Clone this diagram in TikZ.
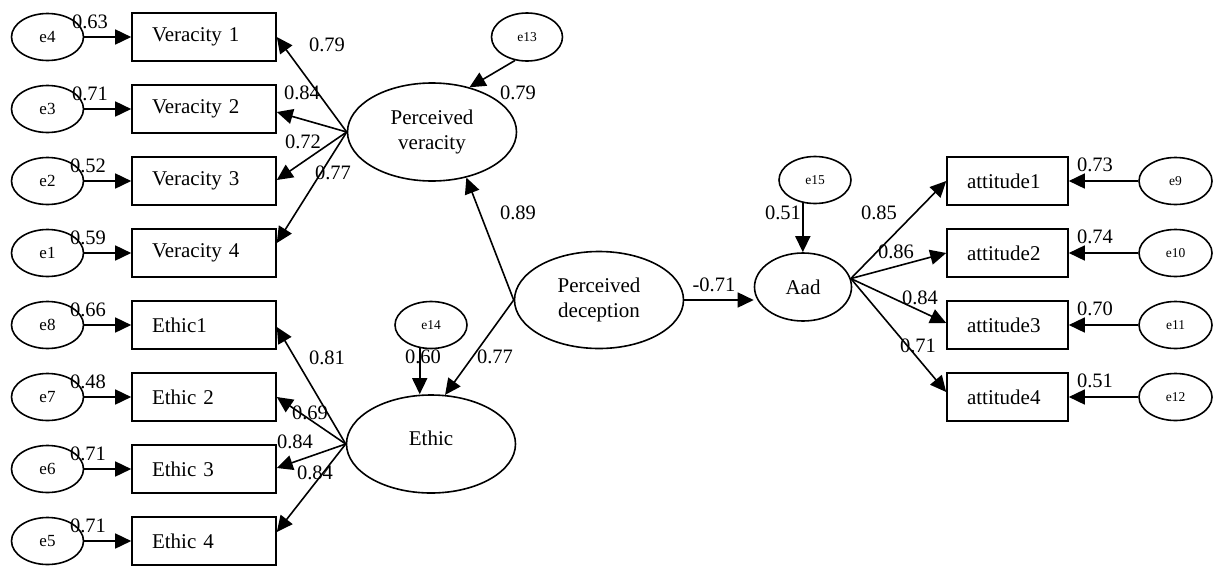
\documentclass[tikz,border=0pt]{standalone}
\usepackage{fontspec}
\setmainfont{Liberation Serif}
\usetikzlibrary{shapes.geometric,arrows.meta}

\begin{document}
\begin{tikzpicture}[x=1pt, y=-1pt, line width=1.6pt,
	every node/.style={font=\fontsize{21}{25}\selectfont},
	obs/.style={draw, rectangle, minimum height=48pt, text width=104pt, inner xsep=20pt, inner ysep=0pt, align=left},
	att/.style={obs, text width=81pt},
	lat/.style={draw, ellipse, inner sep=0pt, minimum width=169pt, minimum height=98pt, align=center},
	err/.style={draw, ellipse, inner sep=0pt, minimum width=72pt, minimum height=47pt, font=\fontsize{17}{19}\selectfont},
	serr/.style={err, font=\fontsize{13.5}{15}\selectfont},
	coef/.style={inner sep=0pt, font=\fontsize{20.5}{22}\selectfont},
	arr/.style={-{Triangle[length=16pt,width=15pt]}}]
	\useasboundingbox (0,0) rectangle (1217,565);
	% veracity indicators
	\node[err] (e4) at (47.5,37) {e4};%
	\node[err] (e3) at (47.5,109) {e3};%
	\node[err] (e2) at (47.5,181) {e2};%
	\node[err] (e1) at (47.5,253) {e1};%
	\node[obs] (v1) at (204,37) {Veracity 1};%
	\node[obs] (v2) at (204,109) {Veracity 2};%
	\node[obs] (v3) at (204,181) {Veracity 3};%
	\node[obs] (v4) at (204,253) {Veracity 4};%
	% ethic indicators
	\node[err] (e8) at (47.5,325) {e8};%
	\node[err] (e7) at (47.5,397) {e7};%
	\node[err] (e6) at (47.5,469) {e6};%
	\node[err] (e5) at (47.5,541) {e5};%
	\node[obs] (t1) at (204,325) {Ethic1};%
	\node[obs] (t2) at (204,397) {Ethic 2};%
	\node[obs] (t3) at (204,469) {Ethic 3};%
	\node[obs] (t4) at (204,541) {Ethic 4};%
	% latent variables
	\node[lat] (pv) at (432,132) {Perceived\\veracity};%
	\node[serr, minimum width=71pt, minimum height=48pt] (e13) at (527,37) {e13};%
	\node[lat, minimum height=97pt] (pd) at (599,300) {Perceived\\deception};%
	\node[serr] (e14) at (431,325) {e14};%
	\node[lat] (eth) at (431,444) {\raisebox{12pt}{Ethic}};%
	\node[lat, minimum width=97pt, minimum height=68pt] (aad) at (803,287) {Aad};%
	\node[serr] (e15) at (815,180) {e15};%
	% attitude indicators
	\node[att] (a1) at (1007.5,181) {attitude1};%
	\node[att] (a2) at (1007.5,253) {attitude2};%
	\node[att] (a3) at (1007.5,325) {attitude3};%
	\node[att] (a4) at (1007.5,397) {attitude4};%
	\node[serr, minimum width=73pt] (e9) at (1175.5,181) {e9};%
	\node[serr, minimum width=73pt] (e10) at (1175.5,253) {e10};%
	\node[serr, minimum width=73pt] (e11) at (1175.5,325) {e11};%
	\node[serr, minimum width=73pt] (e12) at (1175.5,397) {e12};%

	% error paths
	\draw[arr] (e4) -- (v1); \draw[arr] (e3) -- (v2); \draw[arr] (e2) -- (v3); \draw[arr] (e1) -- (v4);
	\draw[arr] (e8) -- (t1); \draw[arr] (e7) -- (t2); \draw[arr] (e6) -- (t3); \draw[arr] (e5) -- (t4);
	\draw[arr] (e9) -- (a1); \draw[arr] (e10) -- (a2); \draw[arr] (e11) -- (a3); \draw[arr] (e12) -- (a4);
	\draw[arr] (e13.243) -- (pv.50);
	\draw[arr] (e14.244) -- (e14.244 |- eth.north);
	\draw[arr] (e15.242) -- (e15.242 |- aad.north);
	% loadings
	\draw[arr] (pv.west) -- (v1.east);
	\draw[arr] (pv.west) -- ([yshift=-3pt]v2.east);
	\draw[arr] (pv.west) -- ([yshift=1pt]v3.east);
	\draw[arr] (pv.west) -- ([yshift=10pt]v4.east);
	\draw[arr] (eth.west) -- ([yshift=-2pt]t1.east);
	\draw[arr] (eth.west) -- (t2.east);
	\draw[arr] (eth.west) -- ([yshift=1pt]t3.east);
	\draw[arr] (eth.west) -- ([yshift=9pt]t4.east);
	\draw[arr] (aad.10) -- (a1.west);
	\draw[arr] (aad.10) -- (a2.west);
	\draw[arr] (aad.10) -- ([yshift=2pt]a3.west);
	\draw[arr] (aad.10) -- ([yshift=5pt]a4.west);
	% structural paths
	\draw[arr] (pd.west) -- (pv.-53);
	\draw[arr] (pd.west) -- (eth.74);
	\draw[arr] (pd.east) -- (pd.east -| aad.west);

	% coefficients
	\node[coef] (ce4) at (90,22) {0.63};%
	\node[coef] (ce3) at (90,94) {0.71};%
	\node[coef] (ce2) at (88,166) {0.52};%
	\node[coef] (ce1) at (88,238) {0.59};%
	\node[coef] (ce8) at (88,310) {0.66};%
	\node[coef] (ce7) at (88,382) {0.48};%
	\node[coef] (ce6) at (88,454) {0.71};%
	\node[coef] (ce5) at (88,526) {0.71};%
	\node[coef] (cv1) at (327,45) {0.79};%
	\node[coef] (cv2) at (302,93) {0.84};%
	\node[coef] (cv3) at (303,142) {0.72};%
	\node[coef] (cv4) at (333,173) {0.77};%
	\node[coef] (ct1) at (327,358) {0.81};%
	\node[coef] (ct2) at (310,413) {0.69};%
	\node[coef] (ct3) at (295,442) {0.84};%
	\node[coef] (ct4) at (315,473) {0.84};%
	\node[coef] (ce13) at (518,93) {0.79};%
	\node[coef] (cpv) at (518,213) {0.89};%
	\node[coef] (ce14) at (423,357) {0.60};%
	\node[coef] (ceth) at (495,357) {0.77};%
	\node[coef] (caad) at (714,285) {-0.71};%
	\node[coef] (ce15) at (783,213) {0.51};%
	\node[coef] (ca1) at (879,213) {0.85};%
	\node[coef] (ca2) at (896,252) {0.86};%
	\node[coef] (ca3) at (920,298) {0.84};%
	\node[coef] (ca4) at (918,346) {0.71};%
	\node[coef] (ce9) at (1095,165) {0.73};%
	\node[coef] (ce10) at (1095,237) {0.74};%
	\node[coef] (ce11) at (1095,309) {0.70};%
	\node[coef] (ce12) at (1095,381) {0.51};%
\end{tikzpicture}
\end{document}
